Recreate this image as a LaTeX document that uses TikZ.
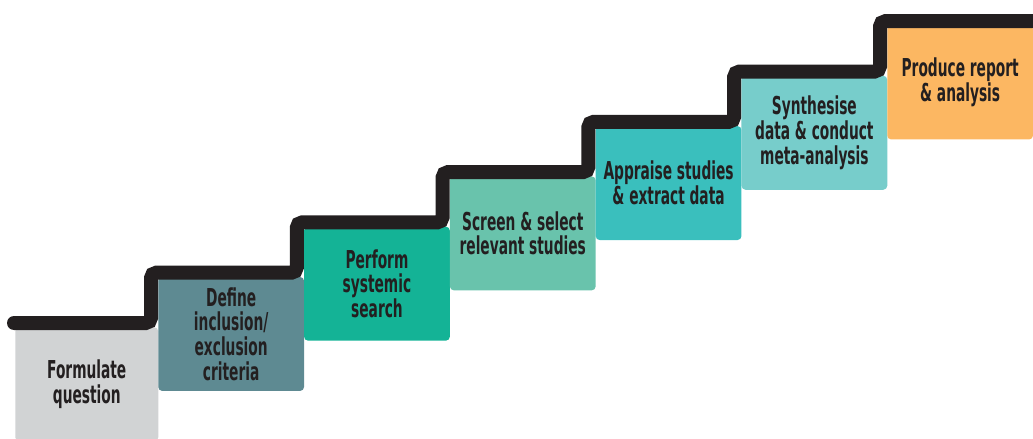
\documentclass[tikz,border=0pt]{standalone}
\usepackage{fontspec}
\newfontfamily\stepfont{DejaVu Sans Condensed}[FakeStretch=0.62]
\usetikzlibrary{calc}

\definecolor{stairline}{HTML}{231F20}
\definecolor{formulatecol}{HTML}{D1D3D4}
\definecolor{definecol}{HTML}{5E8A92}
\definecolor{searchcol}{HTML}{14B396}
\definecolor{screencol}{HTML}{69C3AC}
\definecolor{appraisecol}{HTML}{3ABFBD}
\definecolor{synthcol}{HTML}{77CDCB}
\definecolor{reportcol}{HTML}{FCB762}

\begin{document}
\begin{tikzpicture}[x=0.75pt,y=-0.75pt,
    stepbox/.style={anchor=north west,rounded corners=3pt,inner sep=0pt,
      minimum width=\stepW*0.75pt,minimum height=114*0.75pt,align=center,
      text=stairline,font=\stepfont\bfseries\fontsize{18.5}{18.5}\selectfont}]
    \pgfmathsetmacro{\stepW}{145.8}
    \pgfmathsetmacro{\stepH}{50.3}
    \pgfmathsetmacro{\baseY}{323}
    \pgfmathsetmacro{\baseX}{151}

    \useasboundingbox (0,0) rectangle (1033,439);

    % inner corners of the stairs
    \coordinate (V1) at (\baseX,\baseY);
    \coordinate (V2) at (\baseX+\stepW,\baseY-\stepH);
    \coordinate (V3) at (\baseX+2*\stepW,\baseY-2*\stepH);
    \coordinate (V4) at (\baseX+3*\stepW,\baseY-3*\stepH);
    \coordinate (V5) at (\baseX+4*\stepW,\baseY-4*\stepH);
    \coordinate (V6) at (\baseX+5*\stepW,\baseY-5*\stepH);

    \node (formulate) [stepbox,fill=formulatecol,minimum width=143*0.75pt]
      at (15,\baseY+4) {Formulate\\question};
    \node (define) [stepbox,fill=definecol] at ($(V1)+(7,4-\stepH)$)
      {Define\\inclusion/\\exclusion\\criteria};
    \node (search) [stepbox,fill=searchcol] at ($(V2)+(7,4-\stepH)$)
      {Perform\\systemic\\search};
    \node (screen) [stepbox,fill=screencol] at ($(V3)+(7,4-\stepH)$)
      {Screen \& select\\relevant studies};
    \node (appraise) [stepbox,fill=appraisecol] at ($(V4)+(7,4-\stepH)$)
      {Appraise studies\\\& extract data};
    \node (synthesise) [stepbox,fill=synthcol] at ($(V5)+(7,4-\stepH)$)
      {Synthesise\\data \& conduct\\meta-analysis};
    \node (report) [stepbox,fill=reportcol] at ($(V6)+(7,4-\stepH)$)
      {Produce report\\\& analysis};

    \coordinate (stairstart) at (14,\baseY);
    \coordinate (stairend) at ($(V6)+(170,-\stepH)$);

    \draw [stairline,line width=10.5pt,line cap=round,rounded corners=4pt]
      (stairstart) -- (V1) -- ++(0,-\stepH)
      -- (V2) -- ++(0,-\stepH)
      -- (V3) -- ++(0,-\stepH)
      -- (V4) -- ++(0,-\stepH)
      -- (V5) -- ++(0,-\stepH)
      -- (V6) -- ++(0,-\stepH)
      -- (stairend);
  \end{tikzpicture}
\end{document}
